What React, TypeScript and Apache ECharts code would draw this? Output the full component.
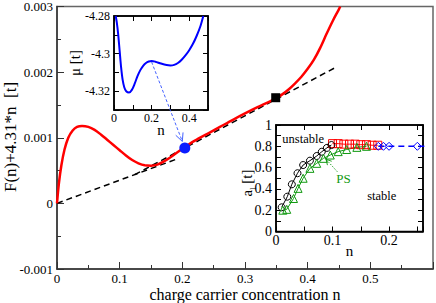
import React, { useEffect, useRef } from "react";
import * as echarts from "echarts";

const FONT = "Liberation Serif, serif";

// main curve F(n)+4.31n  (units of 0.001 t)
const redN = [0, 0.003, 0.007, 0.012, 0.018, 0.025, 0.032, 0.04, 0.05, 0.06, 0.07, 0.08, 0.09, 0.1, 0.11, 0.12, 0.13, 0.14, 0.15, 0.16, 0.17, 0.18, 0.19, 0.2, 0.21, 0.22, 0.24, 0.26, 0.28, 0.3, 0.32, 0.34, 0.35, 0.36, 0.37, 0.38, 0.39, 0.4, 0.41, 0.42, 0.43, 0.44, 0.45, 0.452];
const redF = [0, 0.3, 0.58, 0.82, 1.0, 1.11, 1.165, 1.18, 1.165, 1.12, 1.05, 0.97, 0.89, 0.81, 0.73, 0.66, 0.61, 0.58, 0.575, 0.59, 0.635, 0.695, 0.765, 0.83, 0.895, 0.955, 1.06, 1.165, 1.27, 1.37, 1.465, 1.555, 1.605, 1.665, 1.74, 1.83, 1.93, 2.05, 2.19, 2.37, 2.58, 2.78, 2.96, 3.0];
// tangent construction lines
const tan1N = [0, 0.19];
const tan1F = [0, 0.672];
const tan2N = [0.124, 0.4465];
const tan2F = [0.437, 2.082];
const dotPoint = [0.204, 0.845];
const squarePoint = [0.349, 1.61];

// inset: chemical potential
const muN = [0.009, 0.015, 0.022, 0.03, 0.038, 0.046, 0.055, 0.065, 0.08, 0.095, 0.11, 0.125, 0.14, 0.155, 0.17, 0.185, 0.2, 0.22, 0.25, 0.28, 0.3, 0.32, 0.34, 0.36, 0.38, 0.4, 0.42, 0.44, 0.46, 0.475];
const muV = [-4.28, -4.2835, -4.2895, -4.2985, -4.3075, -4.314, -4.318, -4.32, -4.3207, -4.3193, -4.316, -4.312, -4.3088, -4.3065, -4.305, -4.3042, -4.3039, -4.3043, -4.3053, -4.3061, -4.3063, -4.306, -4.305, -4.3033, -4.301, -4.2982, -4.2948, -4.2905, -4.2853, -4.28];
const muArrowFrom = [0.2, -4.3039];

// inset: a_l
const circN = [0.01, 0.02, 0.028, 0.038, 0.048, 0.06, 0.072, 0.081, 0.09, 0.098];
const circA = [0.227, 0.327, 0.443, 0.547, 0.624, 0.665, 0.709, 0.749, 0.785, 0.812];
const triN = [0.012, 0.019, 0.031, 0.039, 0.048, 0.06, 0.072, 0.084, 0.096, 0.11, 0.125, 0.143, 0.16];
const triA = [0.2, 0.208, 0.31, 0.405, 0.5, 0.593, 0.64, 0.687, 0.718, 0.75, 0.77, 0.79, 0.8];
const sqN = [0.1, 0.11, 0.12, 0.13, 0.14, 0.15, 0.16, 0.17, 0.18];
const sqA = [0.825, 0.825, 0.82, 0.82, 0.82, 0.815, 0.815, 0.81, 0.81];
const diaN = [0.181, 0.19, 0.2, 0.25, 0.3];
const diaA = [0.8, 0.8, 0.8, 0.8, 0.8];

// titles
const xTitle = "charge carrier concentration n";
const yTitle = "F(n)+4.31*n  [t]";
const muTitle = "μ [t]";
const nTitle = "n";

const zip = (a: number[], b: number[]) => a.map((v, i) => [v, b[i]]);

const lbl = (size: number) => ({ fontFamily: FONT, fontSize: size, color: "#000" });

function baseAxis(gridIndex: number, color: string, extra: any) {
  return {
    type: "value",
    gridIndex,
    splitLine: { show: false },
    axisLine: { show: true, onZero: false, lineStyle: { color, width: 1.5 } },
    axisTick: { show: true, inside: true, length: 5, lineStyle: { color, width: 1 } },
    ...extra,
  };
}

export default function App() {
  const ref = useRef<HTMLDivElement>(null);
  useEffect(() => {
    document.body.style.margin = "0";
    const chart = echarts.init(ref.current!, null, { renderer: "svg" });
    const evenTenth = (v: number) => {
      const r = Math.round(v * 10);
      return Math.abs(v * 10 - r) < 1e-6 && r % 2 === 0 ? String(r / 10) : "";
    };
    const option: any = {
      animation: false,
      grid: [
        { left: 57, top: 5, width: 376, height: 264, show: true, borderColor: "#666", borderWidth: 1.5, backgroundColor: "transparent" },
        { left: 114, top: 16, width: 94, height: 94, show: true, borderColor: "#000", borderWidth: 1.5, backgroundColor: "#fff" },
        { left: 276, top: 125, width: 147, height: 106.5, show: true, borderColor: "#000", borderWidth: 1.5, backgroundColor: "#fff" },
      ],
      xAxis: [
        baseAxis(0, "#333", {
          min: 0, max: 0.6, interval: 0.1,
          axisTick: { show: true, inside: true, length: 7, lineStyle: { color: "#333", width: 1 } },
          minorTick: { show: true, splitNumber: 2, length: 4, lineStyle: { color: "#333", width: 1 } },
          axisLabel: { ...lbl(13), margin: 3, showMaxLabel: false, formatter: (v: number) => String(Math.round(v * 10) / 10) },
        }),
        baseAxis(1, "#000", {
          min: 0, max: 0.5, interval: 0.1, position: "bottom",
          axisLabel: { ...lbl(12), margin: 2, formatter: evenTenth },
        }),
        baseAxis(1, "#000", { min: 0, max: 0.5, interval: 0.1, position: "top", axisLabel: { show: false } }),
        baseAxis(2, "#000", {
          min: 0, max: 0.26, interval: 0.05, position: "bottom",
          axisLabel: {
            ...lbl(14), margin: 2,
            formatter: (v: number) => {
              const r = Math.round(v * 100);
              return r % 10 === 0 && Math.abs(v * 100 - r) < 1e-6 ? String(r / 100) : "";
            },
          },
        }),
        baseAxis(2, "#000", { min: 0, max: 0.26, interval: 0.05, position: "top", axisLabel: { show: false } }),
      ],
      yAxis: [
        baseAxis(0, "#333", {
          min: -0.001, max: 0.003, interval: 0.001,
          axisTick: { show: true, inside: true, length: 7, lineStyle: { color: "#333", width: 1 } },
          minorTick: { show: true, splitNumber: 2, length: 4, lineStyle: { color: "#333", width: 1 } },
          axisLabel: { ...lbl(13), margin: 4, formatter: (v: number) => String(Math.round(v * 1e4) / 1e4) },
        }),
        baseAxis(1, "#000", {
          min: -4.33, max: -4.28, interval: 0.01, position: "left",
          axisLabel: {
            ...lbl(12), margin: 4,
            formatter: (v: number) => {
              const r = Math.round(v * 100);
              return r % 2 === 0 ? String(r / 100) : "";
            },
          },
        }),
        baseAxis(1, "#000", { min: -4.33, max: -4.28, interval: 0.01, position: "right", axisLabel: { show: false } }),
        baseAxis(2, "#000", {
          min: 0, max: 1, interval: 0.1, position: "left",
          axisLabel: { ...lbl(14), margin: 4, formatter: evenTenth },
        }),
        baseAxis(2, "#000", { min: 0, max: 1, interval: 0.1, position: "right", axisLabel: { show: false } }),
      ],
      series: [
        {
          type: "line", xAxisIndex: 0, yAxisIndex: 0, showSymbol: false, z: 2,
          data: zip(tan1N, tan1F.map((v) => v / 1000)),
          lineStyle: { color: "#000", width: 1.5, type: [6, 4] },
        },
        {
          type: "line", xAxisIndex: 0, yAxisIndex: 0, showSymbol: false, z: 2,
          data: zip(tan2N, tan2F.map((v) => v / 1000)),
          lineStyle: { color: "#000", width: 1.5, type: [6, 4] },
        },
        {
          type: "line", xAxisIndex: 0, yAxisIndex: 0, showSymbol: false, smooth: 0.3, z: 3,
          data: zip(redN, redF.map((v) => v / 1000)),
          lineStyle: { color: "#ff0000", width: 2.5 },
        },
        {
          type: "scatter", xAxisIndex: 0, yAxisIndex: 0, z: 4, symbol: "circle", symbolSize: 11,
          data: [[dotPoint[0], dotPoint[1] / 1000]], itemStyle: { color: "#0a1cff", opacity: 1 },
        },
        {
          type: "scatter", xAxisIndex: 0, yAxisIndex: 0, z: 4, symbol: "rect", symbolSize: 9,
          data: [[squarePoint[0], squarePoint[1] / 1000]], itemStyle: { color: "#000", opacity: 1 },
        },
        {
          type: "line", xAxisIndex: 1, yAxisIndex: 1, showSymbol: false, smooth: 0.3, z: 3,
          data: zip(muN, muV), lineStyle: { color: "#0000ff", width: 2 },
        },
        {
          type: "line", xAxisIndex: 3, yAxisIndex: 3, z: 3, symbol: "rect", symbolSize: 8, showAllSymbol: true,
          data: zip(sqN, sqA), lineStyle: { color: "#ff0000", width: 1 },
          itemStyle: { color: "rgba(255,255,255,0)", borderColor: "#ff0000", borderWidth: 1 },
        },
        {
          type: "line", xAxisIndex: 3, yAxisIndex: 3, z: 3, symbol: "diamond", symbolSize: 8, showAllSymbol: true,
          data: zip(diaN, diaA), lineStyle: { color: "#0000ff", width: 1.5, type: [6, 4] },
          itemStyle: { color: "rgba(255,255,255,0)", borderColor: "#0000ff", borderWidth: 1 },
        },
        {
          type: "line", xAxisIndex: 3, yAxisIndex: 3, z: 3, symbol: "circle", symbolSize: 7, showAllSymbol: true,
          data: zip(circN, circA), lineStyle: { color: "#000", width: 1 },
          itemStyle: { color: "rgba(255,255,255,0)", borderColor: "#000", borderWidth: 1 },
        },
        {
          type: "line", xAxisIndex: 3, yAxisIndex: 3, z: 3, symbol: "triangle", symbolSize: 8, showAllSymbol: true,
          data: zip(triN, triA), lineStyle: { color: "#119911", width: 1 },
          itemStyle: { color: "rgba(255,255,255,0)", borderColor: "#119911", borderWidth: 1 },
        },
      ],
    };
    chart.setOption(option);

    const px = (xi: number, yi: number, v: number[]) =>
      chart.convertToPixel({ xAxisIndex: xi, yAxisIndex: yi } as any, v) as unknown as number[];

    const arrow = (a: number[], b: number[], stopShort: number, color: string, dash: number[], head: number, spread: number) => {
      const dx = b[0] - a[0];
      const dy = b[1] - a[1];
      const len = Math.hypot(dx, dy);
      const ux = dx / len;
      const uy = dy / len;
      const tip = [b[0] - ux * stopShort, b[1] - uy * stopShort];
      const ang = Math.atan2(uy, ux);
      const h1 = [tip[0] - head * Math.cos(ang - spread), tip[1] - head * Math.sin(ang - spread)];
      const h2 = [tip[0] - head * Math.cos(ang + spread), tip[1] - head * Math.sin(ang + spread)];
      return [
        { type: "line", z: 10, shape: { x1: a[0], y1: a[1], x2: tip[0], y2: tip[1] }, style: { stroke: color, lineWidth: 0.9, lineDash: dash } },
        { type: "polyline", z: 10, shape: { points: [h1, tip, h2] }, style: { stroke: color, lineWidth: 0.9, fill: null } },
      ];
    };

    const muP = px(1, 1, muArrowFrom);
    const dotP = px(0, 0, [dotPoint[0], dotPoint[1] / 1000]);
    const psTail = px(3, 3, [0.1085, 0.561]);
    const psTip = px(3, 3, [0.0885, 0.678]);
    const tUn = px(3, 3, [0.048, 0.869]);
    const tSt = px(3, 3, [0.187, 0.333]);
    const tPS = px(3, 3, [0.1195, 0.498]);

    const txt = (p: number[], text: string, color: string, size: number, rot = 0) => ({
      type: "text", z: 10, x: p[0], y: p[1], rotation: rot,
      style: { text, fill: color, fontFamily: FONT, fontSize: size, align: "center", verticalAlign: "middle" },
    });

    chart.setOption({
      graphic: [
        ...arrow([muP[0], muP[1] + 1], dotP, 7, "#3050ff", [3, 2], 9, 0.45),
        ...arrow(psTail, psTip, 0, "#119911", [1.5, 1.5], 6, 0.5),
        txt(tUn, "unstable", "#000", 12.5),
        txt(tSt, "stable", "#000", 12.5),
        txt(tPS, "PS", "#119911", 13),
        txt([245, 294], xTitle, "#000", 16),
        txt([10, 137], yTitle, "#000", 17, Math.PI / 2),
        txt([75, 63], muTitle, "#000", 15, Math.PI / 2),
        txt([161, 130], nTitle, "#000", 15),
        txt([349.5, 251], nTitle, "#000", 15),
        {
          type: "text", z: 10, x: 248, y: 183, rotation: Math.PI / 2,
          style: {
            text: "{m|a}{s|l}{m| [t]}",
            fill: "#000", align: "center", verticalAlign: "middle",
            rich: {
              m: { fontFamily: FONT, fontSize: 15, lineHeight: 15, verticalAlign: "top" },
              s: { fontFamily: FONT, fontSize: 9, lineHeight: 18, verticalAlign: "bottom" },
            },
          },
        },
      ],
    });

    return () => chart.dispose();
  }, []);
  return <div ref={ref} style={{ width: 436, height: 303 }} />;
}
